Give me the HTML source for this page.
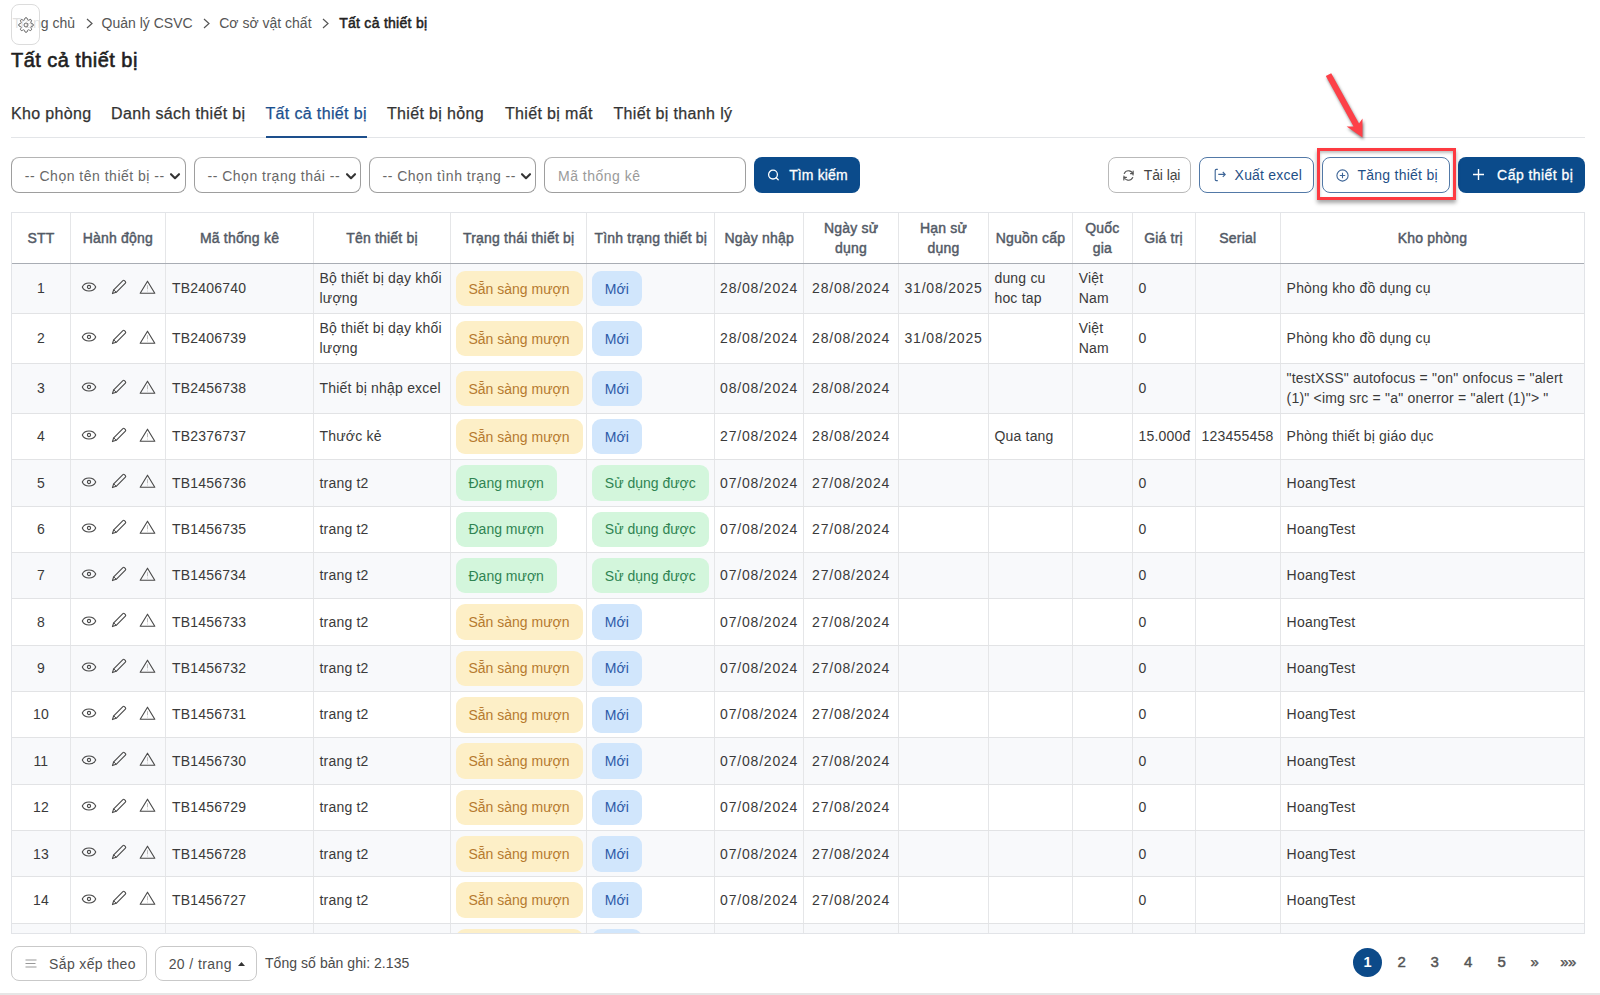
<!DOCTYPE html>
<html><head><meta charset="utf-8"><title>Tất cả thiết bị</title><style>
*{box-sizing:border-box;margin:0;padding:0}
html,body{width:1600px;height:995px;overflow:hidden;background:#fff}
body{font-family:"Liberation Sans",sans-serif;color:#333;position:relative;font-size:14px;letter-spacing:0.2px}
.abs{position:absolute}
.bc{position:absolute;top:14px;left:12.5px;height:18px;display:flex;align-items:center;font-size:14px;color:#555;white-space:nowrap;letter-spacing:0}
.bc .sep{display:inline-block;margin:0 9px 0 10.6px}
.bc b{color:#222;font-weight:400;-webkit-text-stroke:0.5px #222;letter-spacing:0.28px;margin-left:1px}
.gear{position:absolute;left:11px;top:4px;width:28.5px;height:41px;border:1px solid #dcdcdc;border-radius:8px;background:rgba(255,255,255,0.82)}
.title{position:absolute;left:11px;top:49px;font-size:20px;font-weight:400;color:#1f1f1f;white-space:nowrap;letter-spacing:0.45px;-webkit-text-stroke:0.6px #1f1f1f}
.tabs{position:absolute;left:11px;top:105px;font-size:16px;color:#333;white-space:nowrap;letter-spacing:0.35px}
.tab{position:absolute;top:0;-webkit-text-stroke:0.25px #333}
.tab.act{color:#1a4f8e;-webkit-text-stroke:0.25px #1a4f8e}
.tabline{position:absolute;left:11px;top:137px;width:1574px;height:1px;background:#e3e5e8}
.tabul{position:absolute;left:265.5px;top:135.8px;width:101.5px;height:2.6px;background:#1d4f8c}
.sel{position:absolute;top:157.3px;height:35.5px;border:1.3px solid #9e9e9e;border-top:1.6px solid #b4b4b4;border-radius:8px;background:#fff;font-size:14px;color:#686868;letter-spacing:0.5px;padding-top:2px;white-space:nowrap;display:flex;align-items:center}
.sel .chev{position:absolute;top:14.2px}
.btn{position:absolute;top:157.3px;height:35.5px;border-radius:8px;font-size:14px;white-space:nowrap;display:flex;align-items:center}
.btn.pri{background:#0b4b8b;color:#fff}
.btn.out{border:1.3px solid #5279a7;color:#1f4f86;background:#fff}
.btn.gry{border:1.2px solid #b9b9b9;color:#444;background:#fff}
.tbl{position:absolute;left:11px;top:212px;width:1574px;height:722px;border:1px solid #e2e4e8;overflow:hidden}
.row{position:absolute;left:0;width:1600px}
.row.odd{background:#f8f9fb}
.row.hdr{background:#fff;border-bottom:1.6px solid #a9adb4}
.c{position:absolute;top:0;bottom:0;border-left:1px solid #e5e6e8;display:flex;align-items:center;padding:0 5px 0.4px 5.5px;font-size:14px;line-height:20px;color:#3a3a3a;white-space:nowrap}
.row{border-bottom:1px solid #e2e3e5}
.row.hdr .c{border-bottom:none;color:#535a66;-webkit-text-stroke:0.45px #535a66;padding-bottom:0.3px}
.c.ctr{justify-content:center;text-align:center;padding:0 3px 0.4px}
.c.num{letter-spacing:0.8px}
.c.code{letter-spacing:0.2px;padding-left:6px}
.ic{position:absolute;top:50%;display:block;line-height:0}
.bd{display:inline-flex;align-items:center;height:35.5px;padding:0 13px 0;border-radius:9px;margin-left:-1px;margin-top:0.6px;letter-spacing:0}
.bd.y{background:#fdefc7;color:#b67a2f}
.bd.b{background:#d1e6fc;color:#2d5aa8}
.bd.g{background:#d3f6dc;color:#2f8452}
.foot-btn{position:absolute;top:946.4px;height:34.3px;border:1.2px solid #c9c9c9;border-radius:8px;background:#fff;font-size:14px;color:#4f4f4f;white-space:nowrap;display:flex;align-items:center}
.pg{position:absolute;top:952px;width:20px;height:20px;text-align:center;font-size:15px;line-height:20px;color:#555;-webkit-text-stroke:0.45px #555;letter-spacing:-0.5px}
</style></head><body>
<div class="bc">Trang chủ<svg class="sep" width="7" height="11" viewBox="0 0 7 11"><path d="M1 1 L6 5.5 L1 10" fill="none" stroke="#555" stroke-width="1.2"/></svg>Quản lý CSVC<svg class="sep" width="7" height="11" viewBox="0 0 7 11"><path d="M1 1 L6 5.5 L1 10" fill="none" stroke="#555" stroke-width="1.2"/></svg>Cơ sở vật chất<svg class="sep" width="7" height="11" viewBox="0 0 7 11"><path d="M1 1 L6 5.5 L1 10" fill="none" stroke="#555" stroke-width="1.2"/></svg><b>Tất cả thiết bị</b></div>
<div class="gear"><svg style="position:absolute;left:6px;top:12px" width="16" height="16" viewBox="0 0 24 24"><path d="M12 15a3 3 0 1 0 0-6 3 3 0 0 0 0 6z" fill="none" stroke="#6a6a6a" stroke-width="1.5"/><path d="M19.4 15a1.65 1.65 0 0 0 .33 1.82l.06.06a2 2 0 1 1-2.83 2.83l-.06-.06a1.65 1.65 0 0 0-1.82-.33 1.65 1.65 0 0 0-1 1.51V21a2 2 0 1 1-4 0v-.09A1.65 1.65 0 0 0 9 19.4a1.65 1.65 0 0 0-1.82.33l-.06.06a2 2 0 1 1-2.83-2.830l.06-.06A1.650 1.650 0 0 0 4.68 15a1.65 1.65 0 0 0-1.51-1H3a2 2 0 1 1 0-4h.09A1.65 1.65 0 0 0 4.6 9a1.65 1.65 0 0 0-.33-1.82l-.06-.06a2 2 0 1 1 2.83-2.83l.06.06A1.65 1.65 0 0 0 9 4.68a1.65 1.65 0 0 0 1-1.51V3a2 2 0 1 1 4 0v.09a1.65 1.65 0 0 0 1 1.51 1.65 1.65 0 0 0 1.82-.33l.06-.06a2 2 0 1 1 2.83 2.83l-.06.06A1.65 1.65 0 0 0 19.4 9a1.65 1.65 0 0 0 1.51 1H21a2 2 0 1 1 0 4h-.09a1.65 1.65 0 0 0-1.51 1z" fill="none" stroke="#6a6a6a" stroke-width="1.5"/></svg></div>
<div class="title">Tất cả thiết bị</div>
<div class="tabs"><span class="tab" style="left:0px">Kho phòng</span><span class="tab" style="left:100px">Danh sách thiết bị</span><span class="tab act" style="left:254.5px">Tất cả thiết bị</span><span class="tab" style="left:376px">Thiết bị hỏng</span><span class="tab" style="left:494px">Thiết bị mất</span><span class="tab" style="left:602.5px">Thiết bị thanh lý</span></div>
<div class="tabline"></div><div class="tabul"></div>
<div class="sel" style="left:11.3px;width:174.8px"><span style="margin-left:12.5px">-- Chọn tên thiết bị --</span><svg class="chev" style="left:157px" width="12" height="9" viewBox="0 0 12 9"><path d="M2 2.2 L6 6.2 L10 2.2" fill="none" stroke="#333" stroke-width="2.1" stroke-linecap="round" stroke-linejoin="round"/></svg></div>
<div class="sel" style="left:194px;width:167px"><span style="margin-left:12.5px">-- Chọn trạng thái --</span><svg class="chev" style="left:150px" width="12" height="9" viewBox="0 0 12 9"><path d="M2 2.2 L6 6.2 L10 2.2" fill="none" stroke="#333" stroke-width="2.1" stroke-linecap="round" stroke-linejoin="round"/></svg></div>
<div class="sel" style="left:369px;width:167px"><span style="margin-left:12.5px">-- Chọn tình trạng --</span><svg class="chev" style="left:150px" width="12" height="9" viewBox="0 0 12 9"><path d="M2 2.2 L6 6.2 L10 2.2" fill="none" stroke="#333" stroke-width="2.1" stroke-linecap="round" stroke-linejoin="round"/></svg></div>
<div class="sel" style="left:544px;width:202px;color:#9a9a9a"><span style="margin-left:13px">Mã thống kê</span></div>
<div class="btn pri" style="left:754.2px;width:105.8px"><svg style="position:absolute;left:12.5px;top:11.5px" width="13" height="13" viewBox="0 0 13 13"><circle cx="6" cy="5.6" r="4.4" fill="none" stroke="#fff" stroke-width="1.3"/><path d="M9.2 8.8 L11.2 10.8" stroke="#fff" stroke-width="1.3" stroke-linecap="round"/></svg><span style="position:absolute;left:35px;letter-spacing:0.12px;-webkit-text-stroke:0.3px #fff">Tìm kiếm</span></div>
<div class="btn gry" style="left:1108.2px;width:83.3px"><svg style="position:absolute;left:12.5px;top:10.8px" width="13" height="13" viewBox="0 0 24 24" fill="none" stroke="#555" stroke-width="2.1" stroke-linecap="round" stroke-linejoin="round"><path d="M20.5 11 A8.6 8.6 0 0 0 4.2 8.2"/><path d="M20.6 3.6 V8.6 H15.8"/><path d="M3.5 13 A8.6 8.6 0 0 0 19.8 15.8"/><path d="M3.4 20.4 V15.4 H8.2"/></svg><span style="position:absolute;left:34.5px;letter-spacing:-0.1px">Tải lại</span></div>
<div class="btn out" style="left:1199.3px;width:115.1px"><svg style="position:absolute;left:12.5px;top:9.8px" width="14" height="14" viewBox="0 0 14 14"><path d="M4.8 1.4 H3.2 Q2.2 1.4 2.2 2.4 V11.6 Q2.2 12.6 3.2 12.6 H4.8" fill="none" stroke="#3d6597" stroke-width="1.1"/><path d="M5.3 6.4 H12.2 M9.8 4 L12.2 6.4 L9.8 8.8" fill="none" stroke="#3d6597" stroke-width="1.1"/></svg><span style="position:absolute;left:34.3px">Xuất excel</span></div>
<div class="btn out" style="left:1322.3px;width:128.2px"><svg style="position:absolute;left:13px;top:10.8px" width="13" height="13" viewBox="0 0 13 13"><circle cx="6.5" cy="6.5" r="5.6" fill="none" stroke="#3d6597" stroke-width="1.1"/><path d="M6.5 3.8 V9.2 M3.8 6.5 H9.2" stroke="#3d6597" stroke-width="1.1"/></svg><span style="position:absolute;left:34.2px;letter-spacing:0.25px">Tăng thiết bị</span></div>
<div class="btn pri" style="left:1458.3px;width:126.8px"><svg style="position:absolute;left:13.5px;top:11px" width="13" height="13" viewBox="0 0 13 13"><path d="M6.5 1 V12 M1 6.5 H12" stroke="#fff" stroke-width="1.4"/></svg><span style="position:absolute;left:38.8px;-webkit-text-stroke:0.3px #fff;letter-spacing:0.45px">Cấp thiết bị</span></div>
<div class="abs" style="left:1317px;top:147.6px;width:139px;height:52px;border:3px solid #fd3a41;box-shadow:0 3px 4px rgba(0,0,0,0.35), inset 0 2px 3px rgba(0,0,0,0.25)"></div>
<svg class="abs" style="left:1300px;top:60px;filter:drop-shadow(1px 2px 1.5px rgba(0,0,0,0.5))" width="90" height="90" viewBox="0 0 90 90"><path d="M25.8 16 L31.2 13.2 L59.0 63.5 L62.5 58.4 L62.5 77.4 L46.6 66.5 L53.6 66.5 Z" fill="#fd4048"/></svg>
<div class="tbl"><div style="position:absolute;left:-12px;top:-213px;width:1600px;height:995px"><div class="row hdr" style="top:213.20px;height:50.80px">
<div class="c ctr" style="left:11.00px;width:58.80px">STT</div>
<div class="c ctr" style="left:69.80px;width:95.20px">Hành động</div>
<div class="c ctr" style="left:165.00px;width:148.00px">Mã thống kê</div>
<div class="c ctr" style="left:313.00px;width:137.00px">Tên thiết bị</div>
<div class="c ctr" style="left:450.00px;width:136.30px">Trạng thái thiết bị</div>
<div class="c ctr" style="left:586.30px;width:128.00px">Tình trạng thiết bị</div>
<div class="c ctr" style="left:714.30px;width:88.70px">Ngày nhập</div>
<div class="c ctr" style="left:803.00px;width:95.20px">Ngày sử<br>dụng</div>
<div class="c ctr" style="left:898.20px;width:89.70px">Hạn sử<br>dụng</div>
<div class="c ctr" style="left:987.90px;width:84.30px">Nguồn cấp</div>
<div class="c ctr" style="left:1072.20px;width:59.30px">Quốc<br>gia</div>
<div class="c ctr" style="left:1131.50px;width:63.00px">Giá trị</div>
<div class="c ctr" style="left:1194.50px;width:85.60px">Serial</div>
<div class="c ctr" style="left:1280.10px;width:303.90px">Kho phòng</div>
</div>
<div class="row odd" style="top:264.00px;height:50.10px">
<div class="c ctr" style="left:11.00px;width:58.80px">1</div>
<div class="c acts" style="left:69.80px;width:95.20px"><span class="ic" style="left:10.40px;margin-top:-7.4px"><svg width="16" height="12" viewBox="0 0 16 12"><path d="M1.3 6 C3.6 0.6 12.4 0.6 14.7 6 C12.4 11.4 3.6 11.4 1.3 6 Z" fill="none" stroke="#484848" stroke-width="1.1"/><circle cx="8" cy="6" r="1.6" fill="none" stroke="#484848" stroke-width="1.1"/></svg></span><span class="ic" style="left:40.20px;margin-top:-9.85px"><svg width="16" height="16" viewBox="0 0 16 16"><path d="M11.9 1.6 Q12.6 0.9 13.4 1.6 L14.4 2.6 Q15.1 3.4 14.4 4.1 L5.2 13.3 L1.4 14.6 L2.7 10.8 Z" fill="none" stroke="#484848" stroke-width="1.1" stroke-linejoin="round"/><path d="M2.7 10.8 L5.2 13.3" stroke="#484848" stroke-width="1"/></svg></span><span class="ic" style="left:68.70px;margin-top:-9.0px"><svg width="17" height="14" viewBox="0 0 17 14"><path d="M8.5 1.2 L15.8 13.2 L1.2 13.2 Z" fill="none" stroke="#484848" stroke-width="1.1" stroke-linejoin="round"/><path d="M8.5 5.2 V9.3" stroke="#bbb" stroke-width="1"/><circle cx="8.5" cy="11.1" r="0.5" fill="#bbb"/></svg></span></div>
<div class="c code" style="left:165.00px;width:148.00px">TB2406740</div>
<div class="c" style="left:313.00px;width:137.00px">Bộ thiết bị dạy khối<br>lượng</div>
<div class="c" style="left:450.00px;width:136.30px"><span class="bd y">Sẵn sàng mượn</span></div>
<div class="c" style="left:586.30px;width:128.00px"><span class="bd b">Mới</span></div>
<div class="c num ctr" style="left:714.30px;width:88.70px">28/08/2024</div>
<div class="c num ctr" style="left:803.00px;width:95.20px">28/08/2024</div>
<div class="c num ctr" style="left:898.20px;width:89.70px">31/08/2025</div>
<div class="c" style="left:987.90px;width:84.30px">dung cu<br>hoc tap</div>
<div class="c" style="left:1072.20px;width:59.30px">Việt<br>Nam</div>
<div class="c code" style="left:1131.50px;width:63.00px">0</div>
<div class="c code" style="left:1194.50px;width:85.60px"></div>
<div class="c" style="left:1280.10px;width:303.90px">Phòng kho đồ dụng cụ</div>
</div>
<div class="row" style="top:314.10px;height:50.10px">
<div class="c ctr" style="left:11.00px;width:58.80px">2</div>
<div class="c acts" style="left:69.80px;width:95.20px"><span class="ic" style="left:10.40px;margin-top:-7.4px"><svg width="16" height="12" viewBox="0 0 16 12"><path d="M1.3 6 C3.6 0.6 12.4 0.6 14.7 6 C12.4 11.4 3.6 11.4 1.3 6 Z" fill="none" stroke="#484848" stroke-width="1.1"/><circle cx="8" cy="6" r="1.6" fill="none" stroke="#484848" stroke-width="1.1"/></svg></span><span class="ic" style="left:40.20px;margin-top:-9.85px"><svg width="16" height="16" viewBox="0 0 16 16"><path d="M11.9 1.6 Q12.6 0.9 13.4 1.6 L14.4 2.6 Q15.1 3.4 14.4 4.1 L5.2 13.3 L1.4 14.6 L2.7 10.8 Z" fill="none" stroke="#484848" stroke-width="1.1" stroke-linejoin="round"/><path d="M2.7 10.8 L5.2 13.3" stroke="#484848" stroke-width="1"/></svg></span><span class="ic" style="left:68.70px;margin-top:-9.0px"><svg width="17" height="14" viewBox="0 0 17 14"><path d="M8.5 1.2 L15.8 13.2 L1.2 13.2 Z" fill="none" stroke="#484848" stroke-width="1.1" stroke-linejoin="round"/><path d="M8.5 5.2 V9.3" stroke="#bbb" stroke-width="1"/><circle cx="8.5" cy="11.1" r="0.5" fill="#bbb"/></svg></span></div>
<div class="c code" style="left:165.00px;width:148.00px">TB2406739</div>
<div class="c" style="left:313.00px;width:137.00px">Bộ thiết bị dạy khối<br>lượng</div>
<div class="c" style="left:450.00px;width:136.30px"><span class="bd y">Sẵn sàng mượn</span></div>
<div class="c" style="left:586.30px;width:128.00px"><span class="bd b">Mới</span></div>
<div class="c num ctr" style="left:714.30px;width:88.70px">28/08/2024</div>
<div class="c num ctr" style="left:803.00px;width:95.20px">28/08/2024</div>
<div class="c num ctr" style="left:898.20px;width:89.70px">31/08/2025</div>
<div class="c" style="left:987.90px;width:84.30px"></div>
<div class="c" style="left:1072.20px;width:59.30px">Việt<br>Nam</div>
<div class="c code" style="left:1131.50px;width:63.00px">0</div>
<div class="c code" style="left:1194.50px;width:85.60px"></div>
<div class="c" style="left:1280.10px;width:303.90px">Phòng kho đồ dụng cụ</div>
</div>
<div class="row odd" style="top:364.20px;height:49.70px">
<div class="c ctr" style="left:11.00px;width:58.80px">3</div>
<div class="c acts" style="left:69.80px;width:95.20px"><span class="ic" style="left:10.40px;margin-top:-7.4px"><svg width="16" height="12" viewBox="0 0 16 12"><path d="M1.3 6 C3.6 0.6 12.4 0.6 14.7 6 C12.4 11.4 3.6 11.4 1.3 6 Z" fill="none" stroke="#484848" stroke-width="1.1"/><circle cx="8" cy="6" r="1.6" fill="none" stroke="#484848" stroke-width="1.1"/></svg></span><span class="ic" style="left:40.20px;margin-top:-9.85px"><svg width="16" height="16" viewBox="0 0 16 16"><path d="M11.9 1.6 Q12.6 0.9 13.4 1.6 L14.4 2.6 Q15.1 3.4 14.4 4.1 L5.2 13.3 L1.4 14.6 L2.7 10.8 Z" fill="none" stroke="#484848" stroke-width="1.1" stroke-linejoin="round"/><path d="M2.7 10.8 L5.2 13.3" stroke="#484848" stroke-width="1"/></svg></span><span class="ic" style="left:68.70px;margin-top:-9.0px"><svg width="17" height="14" viewBox="0 0 17 14"><path d="M8.5 1.2 L15.8 13.2 L1.2 13.2 Z" fill="none" stroke="#484848" stroke-width="1.1" stroke-linejoin="round"/><path d="M8.5 5.2 V9.3" stroke="#bbb" stroke-width="1"/><circle cx="8.5" cy="11.1" r="0.5" fill="#bbb"/></svg></span></div>
<div class="c code" style="left:165.00px;width:148.00px">TB2456738</div>
<div class="c" style="left:313.00px;width:137.00px">Thiết bị nhập excel</div>
<div class="c" style="left:450.00px;width:136.30px"><span class="bd y">Sẵn sàng mượn</span></div>
<div class="c" style="left:586.30px;width:128.00px"><span class="bd b">Mới</span></div>
<div class="c num ctr" style="left:714.30px;width:88.70px">08/08/2024</div>
<div class="c num ctr" style="left:803.00px;width:95.20px">28/08/2024</div>
<div class="c num ctr" style="left:898.20px;width:89.70px"></div>
<div class="c" style="left:987.90px;width:84.30px"></div>
<div class="c" style="left:1072.20px;width:59.30px"></div>
<div class="c code" style="left:1131.50px;width:63.00px">0</div>
<div class="c code" style="left:1194.50px;width:85.60px"></div>
<div class="c" style="left:1280.10px;width:303.90px">&quot;testXSS&quot; autofocus = &quot;on&quot; onfocus = &quot;alert<br>(1)&quot; &lt;img src = &quot;a&quot; onerror = &quot;alert (1)&quot;&gt; &quot;</div>
</div>
<div class="row" style="top:413.90px;height:46.35px">
<div class="c ctr" style="left:11.00px;width:58.80px">4</div>
<div class="c acts" style="left:69.80px;width:95.20px"><span class="ic" style="left:10.40px;margin-top:-7.4px"><svg width="16" height="12" viewBox="0 0 16 12"><path d="M1.3 6 C3.6 0.6 12.4 0.6 14.7 6 C12.4 11.4 3.6 11.4 1.3 6 Z" fill="none" stroke="#484848" stroke-width="1.1"/><circle cx="8" cy="6" r="1.6" fill="none" stroke="#484848" stroke-width="1.1"/></svg></span><span class="ic" style="left:40.20px;margin-top:-9.85px"><svg width="16" height="16" viewBox="0 0 16 16"><path d="M11.9 1.6 Q12.6 0.9 13.4 1.6 L14.4 2.6 Q15.1 3.4 14.4 4.1 L5.2 13.3 L1.4 14.6 L2.7 10.8 Z" fill="none" stroke="#484848" stroke-width="1.1" stroke-linejoin="round"/><path d="M2.7 10.8 L5.2 13.3" stroke="#484848" stroke-width="1"/></svg></span><span class="ic" style="left:68.70px;margin-top:-9.0px"><svg width="17" height="14" viewBox="0 0 17 14"><path d="M8.5 1.2 L15.8 13.2 L1.2 13.2 Z" fill="none" stroke="#484848" stroke-width="1.1" stroke-linejoin="round"/><path d="M8.5 5.2 V9.3" stroke="#bbb" stroke-width="1"/><circle cx="8.5" cy="11.1" r="0.5" fill="#bbb"/></svg></span></div>
<div class="c code" style="left:165.00px;width:148.00px">TB2376737</div>
<div class="c" style="left:313.00px;width:137.00px">Thước kẻ</div>
<div class="c" style="left:450.00px;width:136.30px"><span class="bd y">Sẵn sàng mượn</span></div>
<div class="c" style="left:586.30px;width:128.00px"><span class="bd b">Mới</span></div>
<div class="c num ctr" style="left:714.30px;width:88.70px">27/08/2024</div>
<div class="c num ctr" style="left:803.00px;width:95.20px">28/08/2024</div>
<div class="c num ctr" style="left:898.20px;width:89.70px"></div>
<div class="c" style="left:987.90px;width:84.30px">Qua tang</div>
<div class="c" style="left:1072.20px;width:59.30px"></div>
<div class="c code" style="left:1131.50px;width:63.00px">15.000đ</div>
<div class="c code" style="left:1194.50px;width:85.60px">123455458</div>
<div class="c" style="left:1280.10px;width:303.90px">Phòng thiết bị giáo dục</div>
</div>
<div class="row odd" style="top:460.25px;height:46.35px">
<div class="c ctr" style="left:11.00px;width:58.80px">5</div>
<div class="c acts" style="left:69.80px;width:95.20px"><span class="ic" style="left:10.40px;margin-top:-7.4px"><svg width="16" height="12" viewBox="0 0 16 12"><path d="M1.3 6 C3.6 0.6 12.4 0.6 14.7 6 C12.4 11.4 3.6 11.4 1.3 6 Z" fill="none" stroke="#484848" stroke-width="1.1"/><circle cx="8" cy="6" r="1.6" fill="none" stroke="#484848" stroke-width="1.1"/></svg></span><span class="ic" style="left:40.20px;margin-top:-9.85px"><svg width="16" height="16" viewBox="0 0 16 16"><path d="M11.9 1.6 Q12.6 0.9 13.4 1.6 L14.4 2.6 Q15.1 3.4 14.4 4.1 L5.2 13.3 L1.4 14.6 L2.7 10.8 Z" fill="none" stroke="#484848" stroke-width="1.1" stroke-linejoin="round"/><path d="M2.7 10.8 L5.2 13.3" stroke="#484848" stroke-width="1"/></svg></span><span class="ic" style="left:68.70px;margin-top:-9.0px"><svg width="17" height="14" viewBox="0 0 17 14"><path d="M8.5 1.2 L15.8 13.2 L1.2 13.2 Z" fill="none" stroke="#484848" stroke-width="1.1" stroke-linejoin="round"/><path d="M8.5 5.2 V9.3" stroke="#bbb" stroke-width="1"/><circle cx="8.5" cy="11.1" r="0.5" fill="#bbb"/></svg></span></div>
<div class="c code" style="left:165.00px;width:148.00px">TB1456736</div>
<div class="c" style="left:313.00px;width:137.00px">trang t2</div>
<div class="c" style="left:450.00px;width:136.30px"><span class="bd g">Đang mượn</span></div>
<div class="c" style="left:586.30px;width:128.00px"><span class="bd g">Sử dụng được</span></div>
<div class="c num ctr" style="left:714.30px;width:88.70px">07/08/2024</div>
<div class="c num ctr" style="left:803.00px;width:95.20px">27/08/2024</div>
<div class="c num ctr" style="left:898.20px;width:89.70px"></div>
<div class="c" style="left:987.90px;width:84.30px"></div>
<div class="c" style="left:1072.20px;width:59.30px"></div>
<div class="c code" style="left:1131.50px;width:63.00px">0</div>
<div class="c code" style="left:1194.50px;width:85.60px"></div>
<div class="c" style="left:1280.10px;width:303.90px">HoangTest</div>
</div>
<div class="row" style="top:506.60px;height:46.35px">
<div class="c ctr" style="left:11.00px;width:58.80px">6</div>
<div class="c acts" style="left:69.80px;width:95.20px"><span class="ic" style="left:10.40px;margin-top:-7.4px"><svg width="16" height="12" viewBox="0 0 16 12"><path d="M1.3 6 C3.6 0.6 12.4 0.6 14.7 6 C12.4 11.4 3.6 11.4 1.3 6 Z" fill="none" stroke="#484848" stroke-width="1.1"/><circle cx="8" cy="6" r="1.6" fill="none" stroke="#484848" stroke-width="1.1"/></svg></span><span class="ic" style="left:40.20px;margin-top:-9.85px"><svg width="16" height="16" viewBox="0 0 16 16"><path d="M11.9 1.6 Q12.6 0.9 13.4 1.6 L14.4 2.6 Q15.1 3.4 14.4 4.1 L5.2 13.3 L1.4 14.6 L2.7 10.8 Z" fill="none" stroke="#484848" stroke-width="1.1" stroke-linejoin="round"/><path d="M2.7 10.8 L5.2 13.3" stroke="#484848" stroke-width="1"/></svg></span><span class="ic" style="left:68.70px;margin-top:-9.0px"><svg width="17" height="14" viewBox="0 0 17 14"><path d="M8.5 1.2 L15.8 13.2 L1.2 13.2 Z" fill="none" stroke="#484848" stroke-width="1.1" stroke-linejoin="round"/><path d="M8.5 5.2 V9.3" stroke="#bbb" stroke-width="1"/><circle cx="8.5" cy="11.1" r="0.5" fill="#bbb"/></svg></span></div>
<div class="c code" style="left:165.00px;width:148.00px">TB1456735</div>
<div class="c" style="left:313.00px;width:137.00px">trang t2</div>
<div class="c" style="left:450.00px;width:136.30px"><span class="bd g">Đang mượn</span></div>
<div class="c" style="left:586.30px;width:128.00px"><span class="bd g">Sử dụng được</span></div>
<div class="c num ctr" style="left:714.30px;width:88.70px">07/08/2024</div>
<div class="c num ctr" style="left:803.00px;width:95.20px">27/08/2024</div>
<div class="c num ctr" style="left:898.20px;width:89.70px"></div>
<div class="c" style="left:987.90px;width:84.30px"></div>
<div class="c" style="left:1072.20px;width:59.30px"></div>
<div class="c code" style="left:1131.50px;width:63.00px">0</div>
<div class="c code" style="left:1194.50px;width:85.60px"></div>
<div class="c" style="left:1280.10px;width:303.90px">HoangTest</div>
</div>
<div class="row odd" style="top:552.95px;height:46.35px">
<div class="c ctr" style="left:11.00px;width:58.80px">7</div>
<div class="c acts" style="left:69.80px;width:95.20px"><span class="ic" style="left:10.40px;margin-top:-7.4px"><svg width="16" height="12" viewBox="0 0 16 12"><path d="M1.3 6 C3.6 0.6 12.4 0.6 14.7 6 C12.4 11.4 3.6 11.4 1.3 6 Z" fill="none" stroke="#484848" stroke-width="1.1"/><circle cx="8" cy="6" r="1.6" fill="none" stroke="#484848" stroke-width="1.1"/></svg></span><span class="ic" style="left:40.20px;margin-top:-9.85px"><svg width="16" height="16" viewBox="0 0 16 16"><path d="M11.9 1.6 Q12.6 0.9 13.4 1.6 L14.4 2.6 Q15.1 3.4 14.4 4.1 L5.2 13.3 L1.4 14.6 L2.7 10.8 Z" fill="none" stroke="#484848" stroke-width="1.1" stroke-linejoin="round"/><path d="M2.7 10.8 L5.2 13.3" stroke="#484848" stroke-width="1"/></svg></span><span class="ic" style="left:68.70px;margin-top:-9.0px"><svg width="17" height="14" viewBox="0 0 17 14"><path d="M8.5 1.2 L15.8 13.2 L1.2 13.2 Z" fill="none" stroke="#484848" stroke-width="1.1" stroke-linejoin="round"/><path d="M8.5 5.2 V9.3" stroke="#bbb" stroke-width="1"/><circle cx="8.5" cy="11.1" r="0.5" fill="#bbb"/></svg></span></div>
<div class="c code" style="left:165.00px;width:148.00px">TB1456734</div>
<div class="c" style="left:313.00px;width:137.00px">trang t2</div>
<div class="c" style="left:450.00px;width:136.30px"><span class="bd g">Đang mượn</span></div>
<div class="c" style="left:586.30px;width:128.00px"><span class="bd g">Sử dụng được</span></div>
<div class="c num ctr" style="left:714.30px;width:88.70px">07/08/2024</div>
<div class="c num ctr" style="left:803.00px;width:95.20px">27/08/2024</div>
<div class="c num ctr" style="left:898.20px;width:89.70px"></div>
<div class="c" style="left:987.90px;width:84.30px"></div>
<div class="c" style="left:1072.20px;width:59.30px"></div>
<div class="c code" style="left:1131.50px;width:63.00px">0</div>
<div class="c code" style="left:1194.50px;width:85.60px"></div>
<div class="c" style="left:1280.10px;width:303.90px">HoangTest</div>
</div>
<div class="row" style="top:599.30px;height:46.35px">
<div class="c ctr" style="left:11.00px;width:58.80px">8</div>
<div class="c acts" style="left:69.80px;width:95.20px"><span class="ic" style="left:10.40px;margin-top:-7.4px"><svg width="16" height="12" viewBox="0 0 16 12"><path d="M1.3 6 C3.6 0.6 12.4 0.6 14.7 6 C12.4 11.4 3.6 11.4 1.3 6 Z" fill="none" stroke="#484848" stroke-width="1.1"/><circle cx="8" cy="6" r="1.6" fill="none" stroke="#484848" stroke-width="1.1"/></svg></span><span class="ic" style="left:40.20px;margin-top:-9.85px"><svg width="16" height="16" viewBox="0 0 16 16"><path d="M11.9 1.6 Q12.6 0.9 13.4 1.6 L14.4 2.6 Q15.1 3.4 14.4 4.1 L5.2 13.3 L1.4 14.6 L2.7 10.8 Z" fill="none" stroke="#484848" stroke-width="1.1" stroke-linejoin="round"/><path d="M2.7 10.8 L5.2 13.3" stroke="#484848" stroke-width="1"/></svg></span><span class="ic" style="left:68.70px;margin-top:-9.0px"><svg width="17" height="14" viewBox="0 0 17 14"><path d="M8.5 1.2 L15.8 13.2 L1.2 13.2 Z" fill="none" stroke="#484848" stroke-width="1.1" stroke-linejoin="round"/><path d="M8.5 5.2 V9.3" stroke="#bbb" stroke-width="1"/><circle cx="8.5" cy="11.1" r="0.5" fill="#bbb"/></svg></span></div>
<div class="c code" style="left:165.00px;width:148.00px">TB1456733</div>
<div class="c" style="left:313.00px;width:137.00px">trang t2</div>
<div class="c" style="left:450.00px;width:136.30px"><span class="bd y">Sẵn sàng mượn</span></div>
<div class="c" style="left:586.30px;width:128.00px"><span class="bd b">Mới</span></div>
<div class="c num ctr" style="left:714.30px;width:88.70px">07/08/2024</div>
<div class="c num ctr" style="left:803.00px;width:95.20px">27/08/2024</div>
<div class="c num ctr" style="left:898.20px;width:89.70px"></div>
<div class="c" style="left:987.90px;width:84.30px"></div>
<div class="c" style="left:1072.20px;width:59.30px"></div>
<div class="c code" style="left:1131.50px;width:63.00px">0</div>
<div class="c code" style="left:1194.50px;width:85.60px"></div>
<div class="c" style="left:1280.10px;width:303.90px">HoangTest</div>
</div>
<div class="row odd" style="top:645.65px;height:46.35px">
<div class="c ctr" style="left:11.00px;width:58.80px">9</div>
<div class="c acts" style="left:69.80px;width:95.20px"><span class="ic" style="left:10.40px;margin-top:-7.4px"><svg width="16" height="12" viewBox="0 0 16 12"><path d="M1.3 6 C3.6 0.6 12.4 0.6 14.7 6 C12.4 11.4 3.6 11.4 1.3 6 Z" fill="none" stroke="#484848" stroke-width="1.1"/><circle cx="8" cy="6" r="1.6" fill="none" stroke="#484848" stroke-width="1.1"/></svg></span><span class="ic" style="left:40.20px;margin-top:-9.85px"><svg width="16" height="16" viewBox="0 0 16 16"><path d="M11.9 1.6 Q12.6 0.9 13.4 1.6 L14.4 2.6 Q15.1 3.4 14.4 4.1 L5.2 13.3 L1.4 14.6 L2.7 10.8 Z" fill="none" stroke="#484848" stroke-width="1.1" stroke-linejoin="round"/><path d="M2.7 10.8 L5.2 13.3" stroke="#484848" stroke-width="1"/></svg></span><span class="ic" style="left:68.70px;margin-top:-9.0px"><svg width="17" height="14" viewBox="0 0 17 14"><path d="M8.5 1.2 L15.8 13.2 L1.2 13.2 Z" fill="none" stroke="#484848" stroke-width="1.1" stroke-linejoin="round"/><path d="M8.5 5.2 V9.3" stroke="#bbb" stroke-width="1"/><circle cx="8.5" cy="11.1" r="0.5" fill="#bbb"/></svg></span></div>
<div class="c code" style="left:165.00px;width:148.00px">TB1456732</div>
<div class="c" style="left:313.00px;width:137.00px">trang t2</div>
<div class="c" style="left:450.00px;width:136.30px"><span class="bd y">Sẵn sàng mượn</span></div>
<div class="c" style="left:586.30px;width:128.00px"><span class="bd b">Mới</span></div>
<div class="c num ctr" style="left:714.30px;width:88.70px">07/08/2024</div>
<div class="c num ctr" style="left:803.00px;width:95.20px">27/08/2024</div>
<div class="c num ctr" style="left:898.20px;width:89.70px"></div>
<div class="c" style="left:987.90px;width:84.30px"></div>
<div class="c" style="left:1072.20px;width:59.30px"></div>
<div class="c code" style="left:1131.50px;width:63.00px">0</div>
<div class="c code" style="left:1194.50px;width:85.60px"></div>
<div class="c" style="left:1280.10px;width:303.90px">HoangTest</div>
</div>
<div class="row" style="top:692.00px;height:46.35px">
<div class="c ctr" style="left:11.00px;width:58.80px">10</div>
<div class="c acts" style="left:69.80px;width:95.20px"><span class="ic" style="left:10.40px;margin-top:-7.4px"><svg width="16" height="12" viewBox="0 0 16 12"><path d="M1.3 6 C3.6 0.6 12.4 0.6 14.7 6 C12.4 11.4 3.6 11.4 1.3 6 Z" fill="none" stroke="#484848" stroke-width="1.1"/><circle cx="8" cy="6" r="1.6" fill="none" stroke="#484848" stroke-width="1.1"/></svg></span><span class="ic" style="left:40.20px;margin-top:-9.85px"><svg width="16" height="16" viewBox="0 0 16 16"><path d="M11.9 1.6 Q12.6 0.9 13.4 1.6 L14.4 2.6 Q15.1 3.4 14.4 4.1 L5.2 13.3 L1.4 14.6 L2.7 10.8 Z" fill="none" stroke="#484848" stroke-width="1.1" stroke-linejoin="round"/><path d="M2.7 10.8 L5.2 13.3" stroke="#484848" stroke-width="1"/></svg></span><span class="ic" style="left:68.70px;margin-top:-9.0px"><svg width="17" height="14" viewBox="0 0 17 14"><path d="M8.5 1.2 L15.8 13.2 L1.2 13.2 Z" fill="none" stroke="#484848" stroke-width="1.1" stroke-linejoin="round"/><path d="M8.5 5.2 V9.3" stroke="#bbb" stroke-width="1"/><circle cx="8.5" cy="11.1" r="0.5" fill="#bbb"/></svg></span></div>
<div class="c code" style="left:165.00px;width:148.00px">TB1456731</div>
<div class="c" style="left:313.00px;width:137.00px">trang t2</div>
<div class="c" style="left:450.00px;width:136.30px"><span class="bd y">Sẵn sàng mượn</span></div>
<div class="c" style="left:586.30px;width:128.00px"><span class="bd b">Mới</span></div>
<div class="c num ctr" style="left:714.30px;width:88.70px">07/08/2024</div>
<div class="c num ctr" style="left:803.00px;width:95.20px">27/08/2024</div>
<div class="c num ctr" style="left:898.20px;width:89.70px"></div>
<div class="c" style="left:987.90px;width:84.30px"></div>
<div class="c" style="left:1072.20px;width:59.30px"></div>
<div class="c code" style="left:1131.50px;width:63.00px">0</div>
<div class="c code" style="left:1194.50px;width:85.60px"></div>
<div class="c" style="left:1280.10px;width:303.90px">HoangTest</div>
</div>
<div class="row odd" style="top:738.35px;height:46.35px">
<div class="c ctr" style="left:11.00px;width:58.80px">11</div>
<div class="c acts" style="left:69.80px;width:95.20px"><span class="ic" style="left:10.40px;margin-top:-7.4px"><svg width="16" height="12" viewBox="0 0 16 12"><path d="M1.3 6 C3.6 0.6 12.4 0.6 14.7 6 C12.4 11.4 3.6 11.4 1.3 6 Z" fill="none" stroke="#484848" stroke-width="1.1"/><circle cx="8" cy="6" r="1.6" fill="none" stroke="#484848" stroke-width="1.1"/></svg></span><span class="ic" style="left:40.20px;margin-top:-9.85px"><svg width="16" height="16" viewBox="0 0 16 16"><path d="M11.9 1.6 Q12.6 0.9 13.4 1.6 L14.4 2.6 Q15.1 3.4 14.4 4.1 L5.2 13.3 L1.4 14.6 L2.7 10.8 Z" fill="none" stroke="#484848" stroke-width="1.1" stroke-linejoin="round"/><path d="M2.7 10.8 L5.2 13.3" stroke="#484848" stroke-width="1"/></svg></span><span class="ic" style="left:68.70px;margin-top:-9.0px"><svg width="17" height="14" viewBox="0 0 17 14"><path d="M8.5 1.2 L15.8 13.2 L1.2 13.2 Z" fill="none" stroke="#484848" stroke-width="1.1" stroke-linejoin="round"/><path d="M8.5 5.2 V9.3" stroke="#bbb" stroke-width="1"/><circle cx="8.5" cy="11.1" r="0.5" fill="#bbb"/></svg></span></div>
<div class="c code" style="left:165.00px;width:148.00px">TB1456730</div>
<div class="c" style="left:313.00px;width:137.00px">trang t2</div>
<div class="c" style="left:450.00px;width:136.30px"><span class="bd y">Sẵn sàng mượn</span></div>
<div class="c" style="left:586.30px;width:128.00px"><span class="bd b">Mới</span></div>
<div class="c num ctr" style="left:714.30px;width:88.70px">07/08/2024</div>
<div class="c num ctr" style="left:803.00px;width:95.20px">27/08/2024</div>
<div class="c num ctr" style="left:898.20px;width:89.70px"></div>
<div class="c" style="left:987.90px;width:84.30px"></div>
<div class="c" style="left:1072.20px;width:59.30px"></div>
<div class="c code" style="left:1131.50px;width:63.00px">0</div>
<div class="c code" style="left:1194.50px;width:85.60px"></div>
<div class="c" style="left:1280.10px;width:303.90px">HoangTest</div>
</div>
<div class="row" style="top:784.70px;height:46.35px">
<div class="c ctr" style="left:11.00px;width:58.80px">12</div>
<div class="c acts" style="left:69.80px;width:95.20px"><span class="ic" style="left:10.40px;margin-top:-7.4px"><svg width="16" height="12" viewBox="0 0 16 12"><path d="M1.3 6 C3.6 0.6 12.4 0.6 14.7 6 C12.4 11.4 3.6 11.4 1.3 6 Z" fill="none" stroke="#484848" stroke-width="1.1"/><circle cx="8" cy="6" r="1.6" fill="none" stroke="#484848" stroke-width="1.1"/></svg></span><span class="ic" style="left:40.20px;margin-top:-9.85px"><svg width="16" height="16" viewBox="0 0 16 16"><path d="M11.9 1.6 Q12.6 0.9 13.4 1.6 L14.4 2.6 Q15.1 3.4 14.4 4.1 L5.2 13.3 L1.4 14.6 L2.7 10.8 Z" fill="none" stroke="#484848" stroke-width="1.1" stroke-linejoin="round"/><path d="M2.7 10.8 L5.2 13.3" stroke="#484848" stroke-width="1"/></svg></span><span class="ic" style="left:68.70px;margin-top:-9.0px"><svg width="17" height="14" viewBox="0 0 17 14"><path d="M8.5 1.2 L15.8 13.2 L1.2 13.2 Z" fill="none" stroke="#484848" stroke-width="1.1" stroke-linejoin="round"/><path d="M8.5 5.2 V9.3" stroke="#bbb" stroke-width="1"/><circle cx="8.5" cy="11.1" r="0.5" fill="#bbb"/></svg></span></div>
<div class="c code" style="left:165.00px;width:148.00px">TB1456729</div>
<div class="c" style="left:313.00px;width:137.00px">trang t2</div>
<div class="c" style="left:450.00px;width:136.30px"><span class="bd y">Sẵn sàng mượn</span></div>
<div class="c" style="left:586.30px;width:128.00px"><span class="bd b">Mới</span></div>
<div class="c num ctr" style="left:714.30px;width:88.70px">07/08/2024</div>
<div class="c num ctr" style="left:803.00px;width:95.20px">27/08/2024</div>
<div class="c num ctr" style="left:898.20px;width:89.70px"></div>
<div class="c" style="left:987.90px;width:84.30px"></div>
<div class="c" style="left:1072.20px;width:59.30px"></div>
<div class="c code" style="left:1131.50px;width:63.00px">0</div>
<div class="c code" style="left:1194.50px;width:85.60px"></div>
<div class="c" style="left:1280.10px;width:303.90px">HoangTest</div>
</div>
<div class="row odd" style="top:831.05px;height:46.35px">
<div class="c ctr" style="left:11.00px;width:58.80px">13</div>
<div class="c acts" style="left:69.80px;width:95.20px"><span class="ic" style="left:10.40px;margin-top:-7.4px"><svg width="16" height="12" viewBox="0 0 16 12"><path d="M1.3 6 C3.6 0.6 12.4 0.6 14.7 6 C12.4 11.4 3.6 11.4 1.3 6 Z" fill="none" stroke="#484848" stroke-width="1.1"/><circle cx="8" cy="6" r="1.6" fill="none" stroke="#484848" stroke-width="1.1"/></svg></span><span class="ic" style="left:40.20px;margin-top:-9.85px"><svg width="16" height="16" viewBox="0 0 16 16"><path d="M11.9 1.6 Q12.6 0.9 13.4 1.6 L14.4 2.6 Q15.1 3.4 14.4 4.1 L5.2 13.3 L1.4 14.6 L2.7 10.8 Z" fill="none" stroke="#484848" stroke-width="1.1" stroke-linejoin="round"/><path d="M2.7 10.8 L5.2 13.3" stroke="#484848" stroke-width="1"/></svg></span><span class="ic" style="left:68.70px;margin-top:-9.0px"><svg width="17" height="14" viewBox="0 0 17 14"><path d="M8.5 1.2 L15.8 13.2 L1.2 13.2 Z" fill="none" stroke="#484848" stroke-width="1.1" stroke-linejoin="round"/><path d="M8.5 5.2 V9.3" stroke="#bbb" stroke-width="1"/><circle cx="8.5" cy="11.1" r="0.5" fill="#bbb"/></svg></span></div>
<div class="c code" style="left:165.00px;width:148.00px">TB1456728</div>
<div class="c" style="left:313.00px;width:137.00px">trang t2</div>
<div class="c" style="left:450.00px;width:136.30px"><span class="bd y">Sẵn sàng mượn</span></div>
<div class="c" style="left:586.30px;width:128.00px"><span class="bd b">Mới</span></div>
<div class="c num ctr" style="left:714.30px;width:88.70px">07/08/2024</div>
<div class="c num ctr" style="left:803.00px;width:95.20px">27/08/2024</div>
<div class="c num ctr" style="left:898.20px;width:89.70px"></div>
<div class="c" style="left:987.90px;width:84.30px"></div>
<div class="c" style="left:1072.20px;width:59.30px"></div>
<div class="c code" style="left:1131.50px;width:63.00px">0</div>
<div class="c code" style="left:1194.50px;width:85.60px"></div>
<div class="c" style="left:1280.10px;width:303.90px">HoangTest</div>
</div>
<div class="row" style="top:877.40px;height:46.35px">
<div class="c ctr" style="left:11.00px;width:58.80px">14</div>
<div class="c acts" style="left:69.80px;width:95.20px"><span class="ic" style="left:10.40px;margin-top:-7.4px"><svg width="16" height="12" viewBox="0 0 16 12"><path d="M1.3 6 C3.6 0.6 12.4 0.6 14.7 6 C12.4 11.4 3.6 11.4 1.3 6 Z" fill="none" stroke="#484848" stroke-width="1.1"/><circle cx="8" cy="6" r="1.6" fill="none" stroke="#484848" stroke-width="1.1"/></svg></span><span class="ic" style="left:40.20px;margin-top:-9.85px"><svg width="16" height="16" viewBox="0 0 16 16"><path d="M11.9 1.6 Q12.6 0.9 13.4 1.6 L14.4 2.6 Q15.1 3.4 14.4 4.1 L5.2 13.3 L1.4 14.6 L2.7 10.8 Z" fill="none" stroke="#484848" stroke-width="1.1" stroke-linejoin="round"/><path d="M2.7 10.8 L5.2 13.3" stroke="#484848" stroke-width="1"/></svg></span><span class="ic" style="left:68.70px;margin-top:-9.0px"><svg width="17" height="14" viewBox="0 0 17 14"><path d="M8.5 1.2 L15.8 13.2 L1.2 13.2 Z" fill="none" stroke="#484848" stroke-width="1.1" stroke-linejoin="round"/><path d="M8.5 5.2 V9.3" stroke="#bbb" stroke-width="1"/><circle cx="8.5" cy="11.1" r="0.5" fill="#bbb"/></svg></span></div>
<div class="c code" style="left:165.00px;width:148.00px">TB1456727</div>
<div class="c" style="left:313.00px;width:137.00px">trang t2</div>
<div class="c" style="left:450.00px;width:136.30px"><span class="bd y">Sẵn sàng mượn</span></div>
<div class="c" style="left:586.30px;width:128.00px"><span class="bd b">Mới</span></div>
<div class="c num ctr" style="left:714.30px;width:88.70px">07/08/2024</div>
<div class="c num ctr" style="left:803.00px;width:95.20px">27/08/2024</div>
<div class="c num ctr" style="left:898.20px;width:89.70px"></div>
<div class="c" style="left:987.90px;width:84.30px"></div>
<div class="c" style="left:1072.20px;width:59.30px"></div>
<div class="c code" style="left:1131.50px;width:63.00px">0</div>
<div class="c code" style="left:1194.50px;width:85.60px"></div>
<div class="c" style="left:1280.10px;width:303.90px">HoangTest</div>
</div>
<div class="row odd" style="top:923.75px;height:46.35px">
<div class="c ctr" style="left:11.00px;width:58.80px">15</div>
<div class="c acts" style="left:69.80px;width:95.20px"><span class="ic" style="left:10.40px;margin-top:-7.4px"><svg width="16" height="12" viewBox="0 0 16 12"><path d="M1.3 6 C3.6 0.6 12.4 0.6 14.7 6 C12.4 11.4 3.6 11.4 1.3 6 Z" fill="none" stroke="#484848" stroke-width="1.1"/><circle cx="8" cy="6" r="1.6" fill="none" stroke="#484848" stroke-width="1.1"/></svg></span><span class="ic" style="left:40.20px;margin-top:-9.85px"><svg width="16" height="16" viewBox="0 0 16 16"><path d="M11.9 1.6 Q12.6 0.9 13.4 1.6 L14.4 2.6 Q15.1 3.4 14.4 4.1 L5.2 13.3 L1.4 14.6 L2.7 10.8 Z" fill="none" stroke="#484848" stroke-width="1.1" stroke-linejoin="round"/><path d="M2.7 10.8 L5.2 13.3" stroke="#484848" stroke-width="1"/></svg></span><span class="ic" style="left:68.70px;margin-top:-9.0px"><svg width="17" height="14" viewBox="0 0 17 14"><path d="M8.5 1.2 L15.8 13.2 L1.2 13.2 Z" fill="none" stroke="#484848" stroke-width="1.1" stroke-linejoin="round"/><path d="M8.5 5.2 V9.3" stroke="#bbb" stroke-width="1"/><circle cx="8.5" cy="11.1" r="0.5" fill="#bbb"/></svg></span></div>
<div class="c code" style="left:165.00px;width:148.00px">TB1456726</div>
<div class="c" style="left:313.00px;width:137.00px">trang t2</div>
<div class="c" style="left:450.00px;width:136.30px"><span class="bd y">Sẵn sàng mượn</span></div>
<div class="c" style="left:586.30px;width:128.00px"><span class="bd b">Mới</span></div>
<div class="c num ctr" style="left:714.30px;width:88.70px">07/08/2024</div>
<div class="c num ctr" style="left:803.00px;width:95.20px">27/08/2024</div>
<div class="c num ctr" style="left:898.20px;width:89.70px"></div>
<div class="c" style="left:987.90px;width:84.30px"></div>
<div class="c" style="left:1072.20px;width:59.30px"></div>
<div class="c code" style="left:1131.50px;width:63.00px">0</div>
<div class="c code" style="left:1194.50px;width:85.60px"></div>
<div class="c" style="left:1280.10px;width:303.90px">HoangTest</div>
</div></div></div>
<div class="foot-btn" style="left:11.3px;width:135.9px"><svg style="position:absolute;left:12px;top:11px" width="13" height="11" viewBox="0 0 13 11"><path d="M1.5 2 H12.5 M1.5 5.5 H11.5 M1.5 9 H12.5" stroke="#999" stroke-width="1.1"/></svg><span style="position:absolute;left:36.8px;letter-spacing:0.35px">Sắp xếp theo</span></div>
<div class="foot-btn" style="left:155.2px;width:101.8px"><span style="position:absolute;left:12.5px;letter-spacing:0.4px">20 / trang</span><svg style="position:absolute;left:80.5px;top:13.5px" width="9" height="6" viewBox="0 0 9 6"><path d="M1 5 L4.5 1 L8 5 Z" fill="#333"/></svg></div>
<div class="abs" style="left:265px;top:955px;font-size:14px;color:#4a4a4a;white-space:nowrap;letter-spacing:0.05px">Tổng số bản ghi: 2.135</div>
<div class="abs" style="left:1352.8px;top:947.5px;width:29.5px;height:29.5px;border-radius:50%;background:#0c4a89;color:#fff;font-size:14.5px;font-weight:700;text-align:center;line-height:29.5px">1</div>
<div class="pg" style="left:1391.3px">2</div>
<div class="pg" style="left:1424.5px">3</div>
<div class="pg" style="left:1458px">4</div>
<div class="pg" style="left:1491.5px">5</div>
<div class="pg" style="left:1524.5px">»</div>
<div class="pg" style="left:1558px">»»</div>
<div class="abs" style="left:0;top:993px;width:1600px;height:1.5px;background:#e6e6e6"></div>
</body></html>
